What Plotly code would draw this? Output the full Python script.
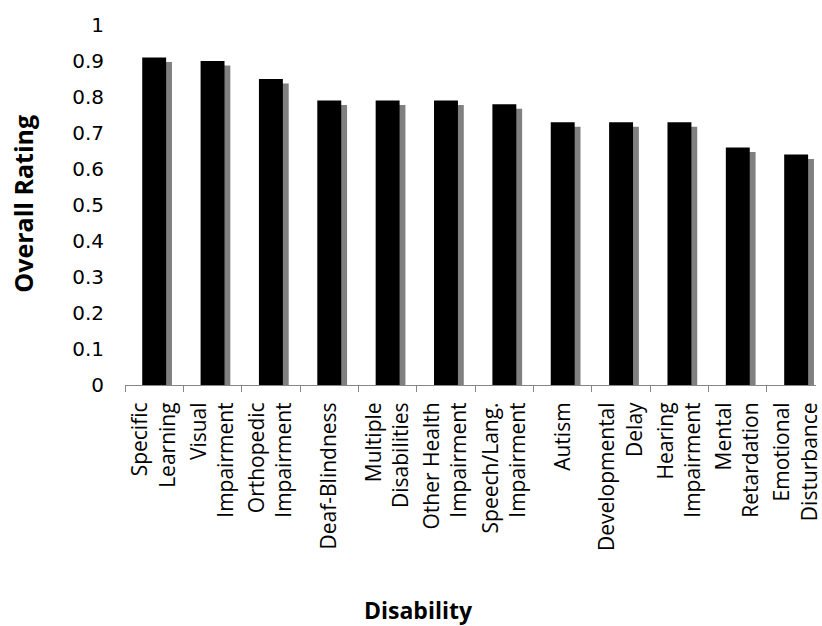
import plotly.graph_objects as go

# Overall rating by disability category
categories = [
    "Specific<br>Learning",
    "Visual<br>Impairment",
    "Orthopedic<br>Impairment",
    "Deaf-Blindness",
    "Multiple<br>Disabilities",
    "Other Health<br>Impairment",
    "Speech/Lang.<br>Impairment",
    "Autism",
    "Developmental<br>Delay",
    "Hearing<br>Impairment",
    "Mental<br>Retardation",
    "Emotional<br>Disturbance",
]
ratings = [0.91, 0.90, 0.85, 0.79, 0.79, 0.79, 0.78, 0.73, 0.73, 0.73, 0.66, 0.64]
y_ticks = [0, 0.1, 0.2, 0.3, 0.4, 0.5, 0.6, 0.7, 0.8, 0.9, 1]

BAR_W = 0.41
SHADOW_DX = 0.10      # shadow offset to the right, in category units
SHADOW_DY = 0.0125    # shadow offset downward, in rating units
AXIS_GREY = "#868686"

fig = go.Figure()

# drop shadow on the base axis (drawn underneath)
fig.add_trace(go.Bar(
    x=categories, y=ratings,
    width=BAR_W, offset=-BAR_W / 2 + SHADOW_DX,
    marker=dict(color="#808080", line=dict(width=0)),
    yaxis="y", hoverinfo="skip", showlegend=False,
))
# main bars on the overlaying axis, drawn on top
fig.add_trace(go.Bar(
    x=categories, y=ratings,
    width=BAR_W, offset=-BAR_W / 2,
    marker=dict(color="#000000", line=dict(width=0)),
    yaxis="y2", showlegend=False,
))

fig.update_layout(
    width=822, height=626,
    margin=dict(l=125, r=0, t=25, b=241),
    paper_bgcolor="white", plot_bgcolor="white",
    barmode="overlay",
    xaxis=dict(
        type="category",
        range=[-0.5, 11.34],
        showline=True, linecolor=AXIS_GREY, linewidth=1,
        ticks="outside", tickson="boundaries", ticklen=6,
        tickcolor=AXIS_GREY, tickwidth=1,
        tickangle=-90,
        tickfont=dict(family="Open Sans", size=21, color="black"),
        ticklabelstandoff=8,
        showgrid=False, zeroline=False,
    ),
    yaxis=dict(
        range=[SHADOW_DY, 1 + SHADOW_DY],
        visible=False, showgrid=False, zeroline=False,
    ),
    yaxis2=dict(
        overlaying="y", side="left",
        range=[0, 1],
        tickvals=y_ticks,
        ticktext=[f"{v:g}" for v in y_ticks],
        showline=False, ticks="",
        tickfont=dict(family="DejaVu Sans", size=20, color="black"),
        ticklabelstandoff=20,
        showgrid=False, zeroline=False,
    ),
    annotations=[
        dict(text="<b>Overall Rating</b>", xref="paper", yref="paper",
             x=-0.148, y=0.503, textangle=-90, showarrow=False,
             xanchor="center", yanchor="middle",
             font=dict(family="Open Sans", size=25, color="black")),
        dict(text="<b>Disability</b>", xref="paper", yref="paper",
             x=0.4247, y=-0.625, showarrow=False,
             xanchor="center", yanchor="middle",
             font=dict(family="Open Sans", size=23, color="black")),
    ],
)

fig.write_html("out.html")
